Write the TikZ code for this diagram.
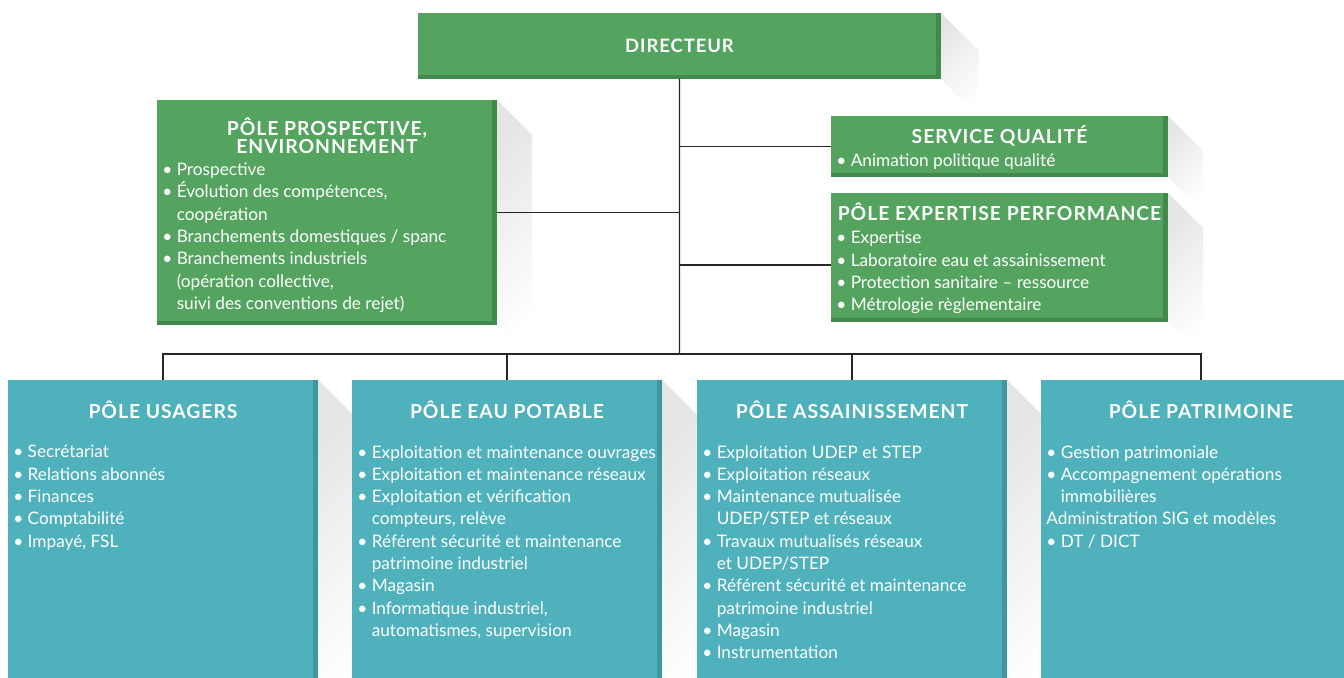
\documentclass[tikz,border=0pt]{standalone}
\usepackage{fontspec}
\setmainfont{Lato}
\newfontfamily\titrefont{Lato}[LetterSpace=5]
\usetikzlibrary{backgrounds}
\definecolor{vert}{HTML}{54A460}
\definecolor{vertfonce}{HTML}{428A4C}
\definecolor{turquoise}{HTML}{4EB1BC}
\definecolor{turquoisefonce}{HTML}{3E96A0}
\newcommand{\retrait}{\hphantom{•\ }}
\begin{document}
\begin{tikzpicture}[
  boite/.style={anchor=north west, inner sep=0pt, outer sep=0pt},
  boiteverte/.style={boite, fill=vertfonce, path picture={\fill[vert] (path picture bounding box.north west) rectangle ([shift={(-0.1,0.08)}]path picture bounding box.south east);}},
  boitebleue/.style={boite, fill=turquoisefonce, path picture={\fill[turquoise] (path picture bounding box.north west) rectangle ([shift={(-0.1,0)}]path picture bounding box.south east);}},
  titre/.style={anchor=base, text=white, inner sep=0pt, align=center, font=\titrefont\bfseries\fontsize{11}{10.2}\selectfont},
  liste/.style={anchor=north west, text=white, inner sep=0pt, align=left, font=\fontsize{9.8}{12.7}\selectfont, execute at begin node=\rule{0pt}{10pt}},
  ombre/.style={top color=black!10, bottom color=white, shading angle=45},
  lien/.style={draw=black!85, line width=0.8pt}
]
\useasboundingbox (0,0) rectangle (26.88,-13.54);
\clip (0,0) rectangle (26.88,-13.54);
% boites
\node[boiteverte, minimum width=10.46cm, minimum height=1.32cm] (dir)     at ( 8.36,-0.26) {};
\node[boiteverte, minimum width=6.80cm,  minimum height=4.50cm] (prosp)   at ( 3.14,-2.00) {};
\node[boiteverte, minimum width=6.74cm,  minimum height=1.22cm] (qual)    at (16.62,-2.32) {};
\node[boiteverte, minimum width=6.74cm,  minimum height=2.58cm] (expert)  at (16.62,-3.86) {};
\node[boitebleue, minimum width=6.20cm,  minimum height=6.00cm] (usagers) at ( 0.16,-7.60) {};
\node[boitebleue, minimum width=6.20cm,  minimum height=6.00cm] (eau)     at ( 7.04,-7.60) {};
\node[boitebleue, minimum width=6.20cm,  minimum height=6.00cm] (assain)  at (13.94,-7.60) {};
\node[boitebleue, minimum width=6.40cm,  minimum height=6.00cm] (patri)   at (20.82,-7.60) {};
% ombres
\begin{scope}[on background layer]
\shade[ombre] (dir.north east)     -- ++(0.75,-0.75) -- ([shift={(0.75,-0.75)}]dir.south east)     -- (dir.south east)     -- cycle;
\shade[ombre] (prosp.north east)   -- ++(0.7,-0.7)   -- ([shift={(0.7,-0.7)}]prosp.south east)     -- (prosp.south east)   -- cycle;
\shade[ombre] (qual.north east)    -- ++(0.7,-0.7)   -- ([shift={(0.7,-0.7)}]qual.south east)      -- (qual.south east)    -- cycle;
\shade[ombre] (expert.north east)  -- ++(0.7,-0.7)   -- ([shift={(0.7,-0.7)}]expert.south east)    -- (expert.south east)  -- cycle;
\shade[ombre] (usagers.north east) -- ++(0.8,-0.8)   -- ([shift={(0.8,-0.8)}]usagers.south east)   -- (usagers.south east) -- cycle;
\shade[ombre] (eau.north east)     -- ++(0.8,-0.8)   -- ([shift={(0.8,-0.8)}]eau.south east)       -- (eau.south east)     -- cycle;
\shade[ombre] (assain.north east)  -- ++(0.8,-0.8)   -- ([shift={(0.8,-0.8)}]assain.south east)    -- (assain.south east)  -- cycle;
\end{scope}
% textes
\node[titre, font=\titrefont\bfseries\fontsize{10.5}{10.2}\selectfont] (dir-t) at ([yshift=-0.80cm]dir.north) {DIRECTEUR};
\node[titre] (prosp-t)   at ([yshift=-1.06cm]prosp.north)   {PÔLE PROSPECTIVE,\\ENVIRONNEMENT};
\node[titre] (qual-t)    at ([yshift=-0.54cm]qual.north)    {SERVICE QUALITÉ};
\node[titre] (expert-t)  at ([yshift=-0.54cm]expert.north)  {PÔLE EXPERTISE PERFORMANCE};
\node[titre] (usagers-t) at ([yshift=-0.77cm]usagers.north) {PÔLE USAGERS};
\node[titre] (eau-t)     at ([yshift=-0.77cm]eau.north)     {PÔLE EAU POTABLE};
\node[titre] (assain-t)  at ([yshift=-0.77cm]assain.north)  {PÔLE ASSAINISSEMENT};
\node[titre] (patri-t)   at ([yshift=-0.77cm]patri.north)   {PÔLE PATRIMOINE};
\node[liste] (prosp-l) at ([shift={(0.10,-1.25)}]prosp.north west)
  {• Prospective\\• Évolution des compétences,\\\retrait coopération\\• Branchements domestiques / spanc\\• Branchements industriels\\\retrait(opération collective,\\\retrait suivi des conventions de rejet)};
\node[liste] (qual-l) at ([shift={(0.10,-0.66)}]qual.north west)
  {• Animation politique qualité};
\node[liste] (expert-l) at ([shift={(0.10,-0.76)}]expert.north west)
  {• Expertise\\• Laboratoire eau et assainissement\\• Protection sanitaire – ressource\\• Métrologie règlementaire};
\node[liste] (usagers-l) at ([shift={(0.10,-1.30)}]usagers.north west)
  {• Secrétariat\\• Relations abonnés\\• Finances\\• Comptabilité\\• Impayé, FSL};
\node[liste] (eau-l) at ([shift={(0.10,-1.30)}]eau.north west)
  {• Exploitation et maintenance ouvrages\\• Exploitation et maintenance réseaux\\• Exploitation et vérification\\\retrait compteurs, relève\\• Référent sécurité et maintenance\\\retrait patrimoine industriel\\• Magasin\\• Informatique industriel,\\\retrait automatismes, supervision};
\node[liste] (assain-l) at ([shift={(0.10,-1.30)}]assain.north west)
  {• Exploitation UDEP et STEP\\• Exploitation réseaux\\• Maintenance mutualisée\\\retrait UDEP/STEP et réseaux\\• Travaux mutualisés réseaux\\\retrait et UDEP/STEP\\• Référent sécurité et maintenance\\\retrait patrimoine industriel\\• Magasin\\• Instrumentation};
\node[liste] (patri-l) at ([shift={(0.10,-1.30)}]patri.north west)
  {• Gestion patrimoniale\\• Accompagnement opérations\\\retrait immobilières\\Administration SIG et modèles\\• DT / DICT};
% liens
\coordinate (bus) at (13.59,-7.08);
\draw[lien] (dir.south) -- (bus);
\draw[lien] (prosp.east) -- (prosp.east -| dir.south);
\draw[lien] (qual.west) -- (qual.west -| dir.south);
\draw[lien] ([yshift=-0.15cm]expert.west) -- ([yshift=-0.15cm]expert.west -| dir.south);
\draw[lien] (usagers.north) |- (bus) -| (patri.north);
\draw[lien] (eau.north) -- (eau.north |- bus);
\draw[lien] (assain.north) -- (assain.north |- bus);
\end{tikzpicture}
\end{document}
